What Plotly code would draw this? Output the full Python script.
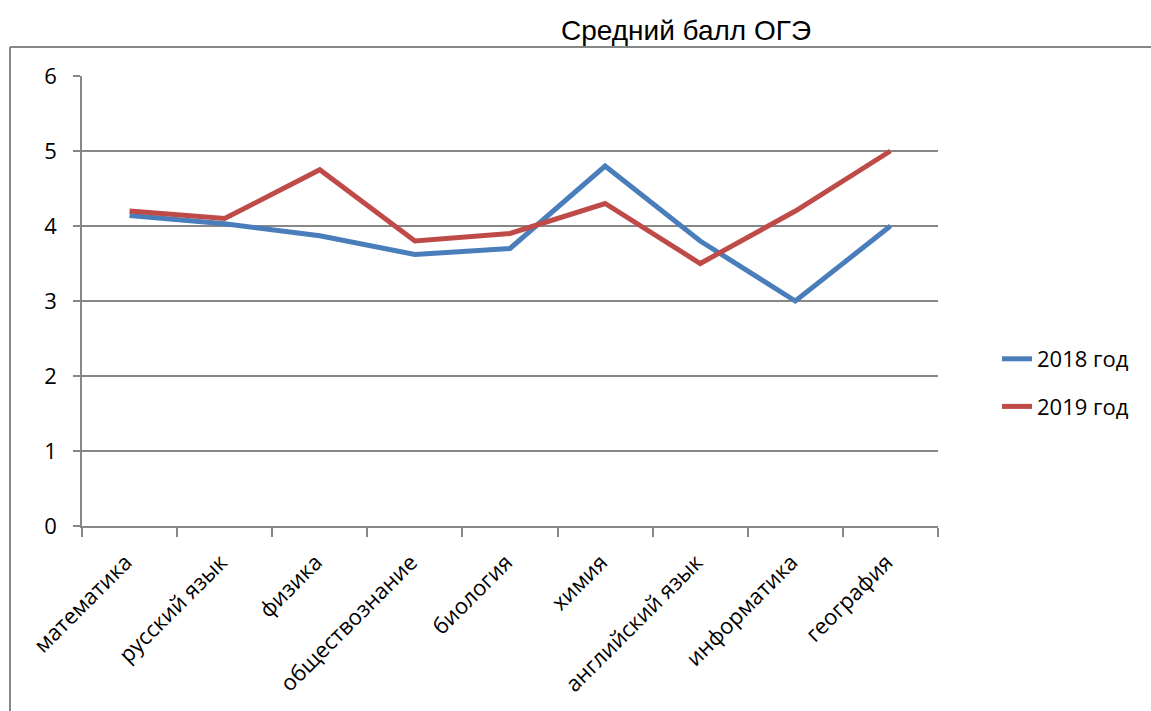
import plotly.graph_objects as go

categories = ["математика", "русский язык", "физика", "обществознание", "биология",
              "химия", "английский язык", "информатика", "география"]
series_2018 = [4.14, 4.03, 3.87, 3.62, 3.70, 4.80, 3.80, 3.00, 4.00]
series_2019 = [4.20, 4.10, 4.75, 3.80, 3.90, 4.30, 3.50, 4.20, 5.00]
y_ticks = [0, 1, 2, 3, 4, 5, 6]

W, H = 1151, 711
L, R, T, B = 82, 1151 - 938, 76, 711 - 526
pw, ph = W - L - R, H - T - B

font_family = "Open Sans"
grey = "#878787"

fig = go.Figure()
fig.add_trace(go.Scatter(x=categories, y=series_2018, mode="lines", name="2018 год",
                         line=dict(color="#4A7EBB", width=5), legendgroup="a"))
fig.add_trace(go.Scatter(x=categories, y=series_2019, mode="lines", name="2019 год",
                         line=dict(color="#BE4B48", width=5), legendgroup="b"))

# outer frame (left and top edges visible)
fx = (10 - L) / pw
fy = 1 + (T - 47) / ph
fig.add_shape(type="line", xref="paper", yref="paper", x0=fx, x1=fx, y0=fy, y1=-2,
              line=dict(color=grey, width=2))
fig.add_shape(type="line", xref="paper", yref="paper", x0=fx, x1=3, y0=fy, y1=fy,
              line=dict(color=grey, width=2))

fig.update_layout(
    width=W, height=H,
    margin=dict(l=L, r=R, t=T, b=B),
    paper_bgcolor="white", plot_bgcolor="white",
    title=dict(text="Средний балл ОГЭ", font=dict(family="Liberation Sans", size=28, color="black"),
               x=686 / W, xanchor="center", xref="container",
               y=1 - 30 / H, yanchor="middle", yref="container"),
    font=dict(family=font_family, size=22, color="black"),
    showlegend=True,
    legend=dict(x=(997 - L) / pw, xanchor="left", y=(526 - 383) / ph, yanchor="middle",
                font=dict(family=font_family, size=22, color="black"),
                tracegroupgap=16, traceorder="grouped", bgcolor="rgba(0,0,0,0)"),
    xaxis=dict(type="category", range=[-0.5, len(categories) - 0.5],
               showgrid=False, showline=True, linecolor=grey, linewidth=1.5,
               ticks="outside", tickson="boundaries", ticklen=9, tickcolor=grey, tickwidth=1.5,
               tickangle=-45, ticklabelstandoff=13, ticklabelshift=-4,
               tickfont=dict(family=font_family, size=22, color="black")),
    yaxis=dict(range=[0, 6], tickvals=y_ticks, showgrid=True, gridcolor=grey, gridwidth=1.5,
               showline=True, linecolor=grey, linewidth=1.5, zeroline=False,
               ticks="outside", ticklen=7, tickcolor=grey, tickwidth=1.5,
               ticklabelstandoff=12,
               tickfont=dict(family=font_family, size=22, color="black")),
)

fig.write_html("out.html", config={"displayModeBar": False},
               post_script="document.body.style.margin='0';document.body.style.overflow='hidden';")
